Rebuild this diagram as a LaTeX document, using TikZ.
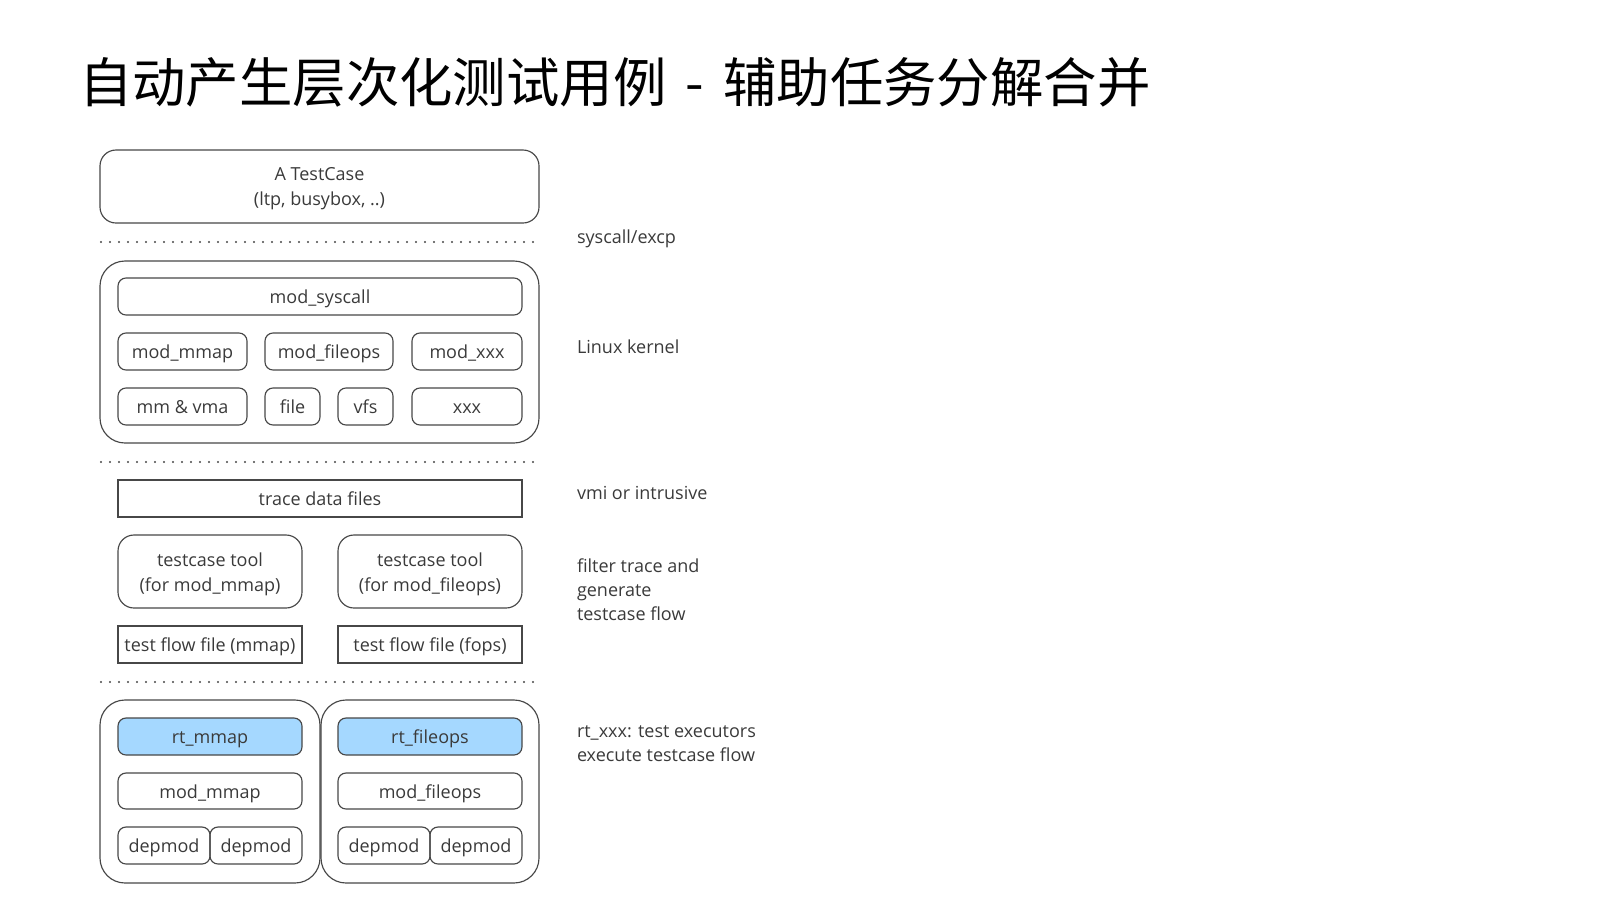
\documentclass[tikz,border=0pt]{standalone}
\usepackage{fontspec}
\setmainfont{Open Sans}
\newfontfamily\cjk{Noto Sans CJK SC}
\definecolor{txt}{HTML}{3A3A3A}
\definecolor{edge}{HTML}{474747}
\definecolor{rtblue}{HTML}{A5D8FF}
\begin{document}
\begin{tikzpicture}[x=1pt,y=-1pt,
  every node/.style={inner sep=0pt, outer sep=0pt, text=txt, font=\fontsize{18}{25}\selectfont},
  lbl2/.style={yshift=-2.5pt, align=center},
  lbl/.style={lbl2, text height=13.5pt, text depth=4.5pt},
  sqbox/.style={draw=edge, line width=1.15pt},
  smbox/.style={sqbox, rounded corners=8pt},
  midbox/.style={sqbox, rounded corners=16pt},
  bigbox/.style={sqbox, rounded corners=25pt},
  rtbox/.style={smbox, fill=rtblue},
  dotline/.style={draw=edge, line width=2.2pt, line cap=round, dash pattern=on 0pt off 9pt},
  sidelabel/.style={anchor=west, align=left, font=\fontsize{18}{24}\selectfont}]
\useasboundingbox (0,0) rectangle (1600,900);
% title
\node[anchor=west, text=black, font=\cjk\fontsize{53.4}{60}\selectfont] (title) at (79,82.5) {自动产生层次化测试用例\hspace{0.36em}-\hspace{0.36em}辅助任务分解合并};
% testcase
\node[midbox, minimum width=439pt, minimum height=73pt, label={[lbl2]center:{A TestCase\\(ltp, busybox, ..)}}] (tc) at (319.5,186.5) {};
% dotted lines
\coordinate (d1a) at (101,242); \coordinate (d1b) at (538,242);
\coordinate (d2a) at (101,462); \coordinate (d2b) at (538,462);
\coordinate (d3a) at (101,682); \coordinate (d3b) at (538,682);
\draw[dotline] (d1a) -- (d1b);
\draw[dotline] (d2a) -- (d2b);
\draw[dotline] (d3a) -- (d3b);
% kernel
\node[bigbox, minimum width=439pt, minimum height=182pt] (kern) at (319.5,352) {};
\node[smbox, minimum width=404pt, minimum height=37pt, label={[lbl]center:mod\_syscall}] (sysc) at (320,296.5) {};
\node[smbox, minimum width=129pt, minimum height=37pt, label={[lbl]center:mod\_mmap}] (kmmap) at (182.5,351.5) {};
\node[smbox, minimum width=128pt, minimum height=37pt, label={[lbl]center:mod\_fileops}] (kfops) at (329,351.5) {};
\node[smbox, minimum width=110pt, minimum height=37pt, label={[lbl]center:mod\_xxx}] (kxxx) at (467,351.5) {};
\node[smbox, minimum width=129pt, minimum height=37pt, label={[lbl]center:mm \& vma}] (mmvma) at (182.5,406.5) {};
\node[smbox, minimum width=55pt, minimum height=37pt, label={[lbl]center:file}] (file) at (292.5,406.5) {};
\node[smbox, minimum width=55pt, minimum height=37pt, label={[lbl]center:vfs}] (vfs) at (365.5,406.5) {};
\node[smbox, minimum width=110pt, minimum height=37pt, label={[lbl]center:xxx}] (xxx) at (467,406.5) {};
% trace
\node[sqbox, minimum width=404pt, minimum height=37pt, label={[lbl]center:trace data files}] (trace) at (320,498.5) {};
\node[midbox, minimum width=184pt, minimum height=73pt, label={[lbl2]center:{testcase tool\\(for mod\_mmap)}}] (toolA) at (210,571.5) {};
\node[midbox, minimum width=184pt, minimum height=73pt, label={[lbl2]center:{testcase tool\\(for mod\_fileops)}}] (toolB) at (430,571.5) {};
\node[sqbox, minimum width=184pt, minimum height=37pt, label={[lbl]center:test flow file (mmap)}] (flowA) at (210,644.5) {};
\node[sqbox, minimum width=184pt, minimum height=37pt, label={[lbl]center:test flow file (fops)}] (flowB) at (430,644.5) {};
% runtime
\node[bigbox, minimum width=220pt, minimum height=183pt] (rtA) at (210,791.5) {};
\node[bigbox, minimum width=218pt, minimum height=183pt] (rtB) at (430,791.5) {};
\node[rtbox, minimum width=184pt, minimum height=37pt, label={[lbl]center:rt\_mmap}] (rtmmap) at (210,736.5) {};
\node[rtbox, minimum width=184pt, minimum height=37pt, label={[lbl]center:rt\_fileops}] (rtfops) at (430,736.5) {};
\node[smbox, minimum width=184pt, minimum height=36pt, label={[lbl]center:mod\_mmap}] (mmmap) at (210,791) {};
\node[smbox, minimum width=184pt, minimum height=36pt, label={[lbl]center:mod\_fileops}] (mfops) at (430,791) {};
\node[smbox, minimum width=92pt, minimum height=37pt, label={[lbl]center:depmod}] (depA1) at (164,845.5) {};
\node[smbox, minimum width=92pt, minimum height=37pt, label={[lbl]center:depmod}] (depA2) at (256,845.5) {};
\node[smbox, minimum width=92pt, minimum height=37pt, label={[lbl]center:depmod}] (depB1) at (384,845.5) {};
\node[smbox, minimum width=92pt, minimum height=37pt, label={[lbl]center:depmod}] (depB2) at (476,845.5) {};
% side labels
\node[sidelabel] (l1) at (577,238.5) {syscall/excp};
\node[sidelabel] (l2) at (577,346.5) {Linux kernel};
\node[sidelabel] (l3) at (577,493) {vmi or intrusive};
\node[sidelabel] (l4) at (577,590) {filter trace and\\generate\\testcase flow};
\node[sidelabel] (l5) at (577,744) {rt\_xxx: test executors\\execute testcase flow};
\end{tikzpicture}
\end{document}
